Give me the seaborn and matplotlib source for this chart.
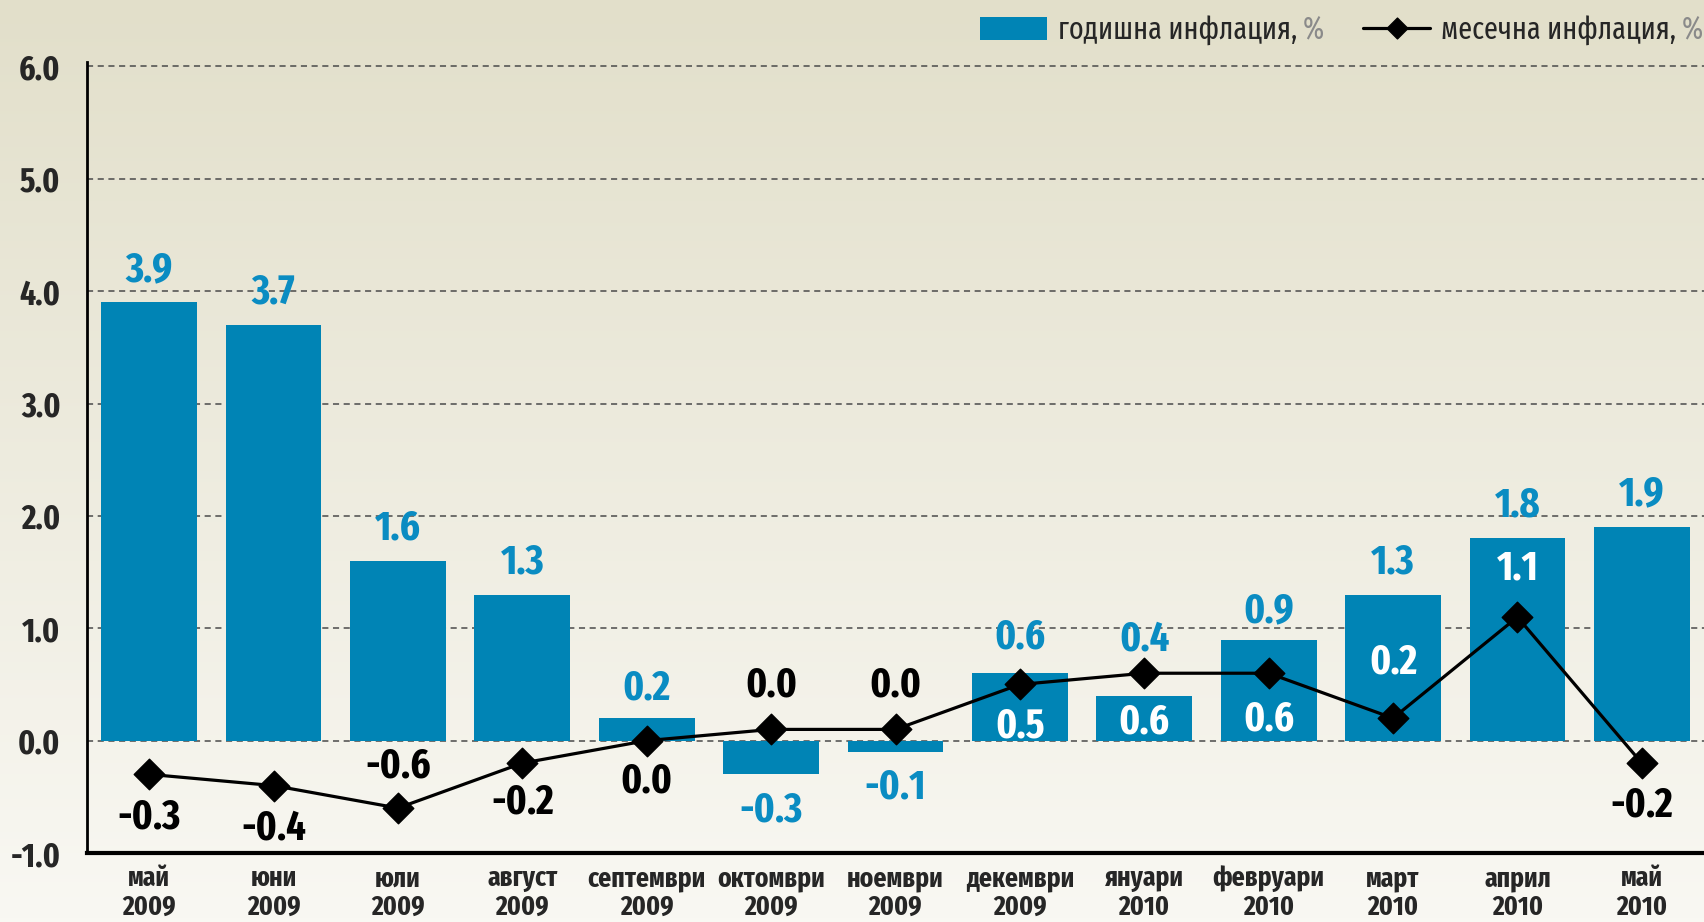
import matplotlib
matplotlib.use("Agg")
import matplotlib.pyplot as plt
import seaborn as sns
import numpy as np
import pandas as pd
from matplotlib.patches import Patch
from matplotlib.lines import Line2D
from matplotlib.path import Path

# --- Data ---
months = ["май\n2009", "юни\n2009", "юли\n2009", "август\n2009", "септември\n2009",
          "октомври\n2009", "ноември\n2009", "декември\n2009", "януари\n2010",
          "февруари\n2010", "март\n2010", "април\n2010", "май\n2010"]
annual = [3.9, 3.7, 1.6, 1.3, 0.2, -0.3, -0.1, 0.6, 0.4, 0.9, 1.3, 1.8, 1.9]
monthly = [-0.3, -0.4, -0.6, -0.2, 0.0, 0.1, 0.1, 0.5, 0.6, 0.6, 0.2, 1.1, -0.2]
monthly_text = ["-0.3", "-0.4", "-0.6", "-0.2", "0.0", "0.0", "0.0",
                "0.5", "0.6", "0.6", "0.2", "1.1", "-0.2"]
yticks = [-1.0, 0.0, 1.0, 2.0, 3.0, 4.0, 5.0, 6.0]
legend_labels = ["годишна инфлация,", "месечна инфлация,"]

# label placement (points above/below the mark, colour)
a_offset = [9, 9, 9, 9, 7, -11, -11, 11, 26, 6, 9, 9, 9]
m_offset = [-31, -31, 30, -28, -29, 32, 32, -30, -35, -33, 40, 35, -30]
m_color = ["black"] * 7 + ["white"] * 5 + ["black"]

BLUE = "#0084b5"
LBLUE = "#0a8cc2"
FONT = ["Fira Sans Extra Condensed", "DejaVu Sans"]

sns.set_style("white")
plt.rcParams["font.family"] = FONT

fig = plt.figure(figsize=(17.04, 9.22), dpi=100)

# background gradient
bg = fig.add_axes([0, 0, 1, 1], zorder=-10)
grad = np.linspace(0, 1, 256).reshape(-1, 1)
cmap = matplotlib.colors.LinearSegmentedColormap.from_list("bg", ["#e2dfca", "#f9f8f3"])
bg.imshow(grad, aspect="auto", cmap=cmap, extent=[0, 1, 0, 1])
bg.axis("off")

ax = fig.add_axes([87 / 1704, 1 - 853 / 922, 1 - 87 / 1704, (853 - 62) / 922])
ax.patch.set_alpha(0)

df = pd.DataFrame({"x": np.arange(len(months)), "annual": annual, "monthly": monthly})

sns.barplot(data=df, x="x", y="annual", color=BLUE, saturation=1, width=0.77,
            edgecolor="none", ax=ax, zorder=2)
sns.lineplot(data=df, x="x", y="monthly", color="black", linewidth=2.3, ax=ax,
             zorder=4)
diamond = Path([(0, 1), (1, 0), (0, -1), (-1, 0), (0, 1)],
               [Path.MOVETO, Path.LINETO, Path.LINETO, Path.LINETO, Path.CLOSEPOLY])
ax.plot(df["x"], df["monthly"], linestyle="none", marker=diamond, markersize=22,
        color="black", zorder=5)

ax.set_xlim(-0.5, 12.5)
ax.set_ylim(-1.0, 6.04)
ax.set_yticks(yticks)
ax.set_yticklabels([f"{v:.1f}" for v in yticks], fontsize=24.5, fontweight="bold")
ax.set_xticks(range(len(months)))
ax.set_xticklabels(months, fontsize=20, fontweight="bold", linespacing=1.1)
ax.tick_params(axis="both", length=0)
ax.tick_params(axis="y", pad=19)
ax.tick_params(axis="x", pad=9)
ax.set_xlabel("")
ax.set_ylabel("")

for v in yticks[1:]:
    ax.axhline(v, color="#4a4a4a", linestyle=(0, (4, 3)), linewidth=1.1, zorder=1)

for s in ["top", "right"]:
    ax.spines[s].set_visible(False)
ax.spines["left"].set_color("black")
ax.spines["left"].set_linewidth(2)
ax.spines["bottom"].set_color("black")
ax.spines["bottom"].set_linewidth(3)

# bar value labels
for i, v in enumerate(annual):
    ax.annotate(f"{v:.1f}", (i, v), xytext=(0, a_offset[i]), textcoords="offset points",
                ha="center", va="bottom" if v >= 0 else "top", fontsize=30,
                fontweight="bold", color=LBLUE, zorder=6)

# monthly value labels
for i, v in enumerate(monthly):
    ax.annotate(monthly_text[i], (i, v), xytext=(0, m_offset[i]), textcoords="offset points",
                ha="center", va="center", fontsize=30, fontweight="bold",
                color=m_color[i], zorder=6)

# legend
handles = [Patch(facecolor=BLUE, edgecolor="none"),
           Line2D([0], [0], color="black", linewidth=2.3, marker=diamond, markersize=15)]
leg = fig.legend(handles, legend_labels, ncol=2,
                 loc="upper right", bbox_to_anchor=(0.9925, 1.0), frameon=False,
                 prop={"family": FONT, "size": 22}, handlelength=2.2, handleheight=0.8,
                 handletextpad=0.35, columnspacing=2.15, borderaxespad=0.1)
fig.canvas.draw()
for t in leg.get_texts():
    fig.add_artist(plt.Annotation("%", xy=(1, 0), xycoords=t, xytext=(4, 0),
                                  textcoords="offset points", ha="left", va="bottom",
                                  fontsize=22, color="#8a8a8a"))

fig.savefig("out.png", dpi=100)
